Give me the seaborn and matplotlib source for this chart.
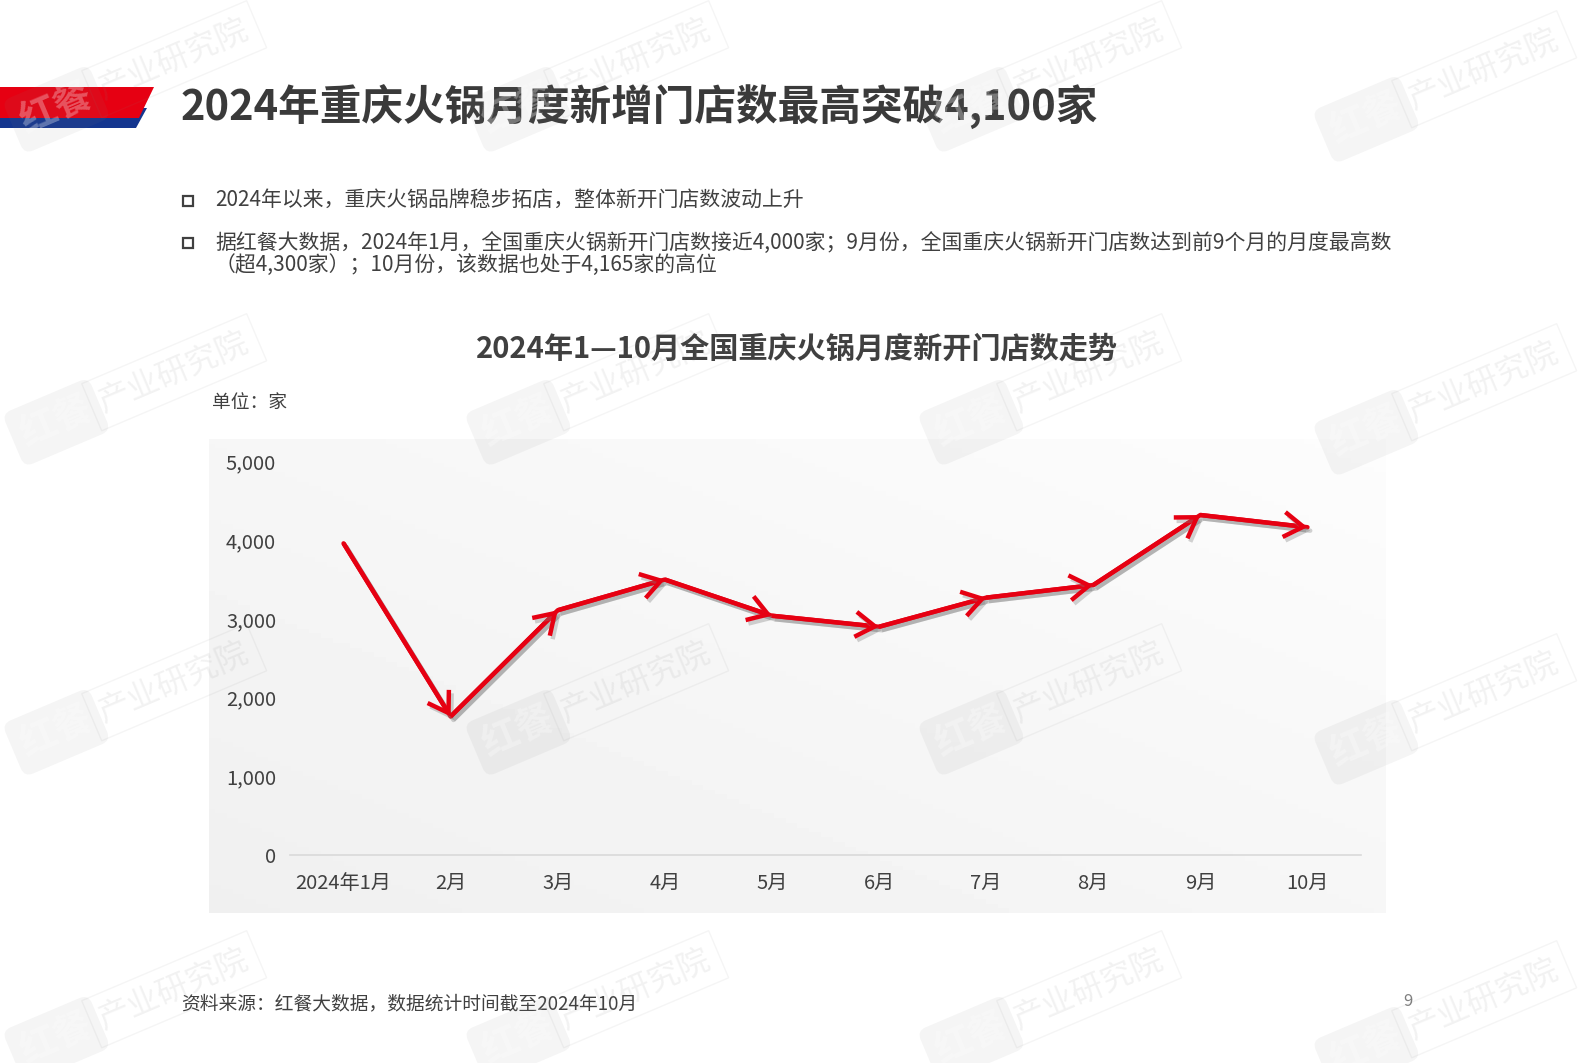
import numpy as np
import matplotlib
matplotlib.use("Agg")
import matplotlib.pyplot as plt
import matplotlib.patheffects as pe
from matplotlib.patches import Polygon, Rectangle
from matplotlib.ticker import FuncFormatter
import seaborn as sns

# data
months = ["2024年1月", "2月", "3月", "4月", "5月", "6月", "7月", "8月", "9月", "10月"]
new_stores = [3960, 1760, 3110, 3500, 3040, 2900, 3270, 3430, 4320, 4165]
y_ticks = [0, 1000, 2000, 3000, 4000, 5000]

page_title = "2024年重庆火锅月度新增门店数最高突破4,100家"
bullets = [
    ["2024年以来，重庆火锅品牌稳步拓店，整体新开门店数波动上升"],
    ["据红餐大数据，2024年1月，全国重庆火锅新开门店数接近4,000家；9月份，全国重庆火锅新开门店数达到前9个月的月度最高数",
     "（超4,300家）；10月份，该数据也处于4,165家的高位"],
]
chart_title = "2024年1—10月全国重庆火锅月度新开门店数走势"
unit_label = "单位：家"
source_note = "资料来源：红餐大数据，数据统计时间截至2024年10月"
page_no = "9"

sns.set_theme(style="white")
plt.rcParams["font.family"] = ["Noto Sans CJK SC", "DejaVu Sans"]

W, H = 1594, 1063
RED = "#e60012"
BLUE = "#14368f"
TXT = "#404040"


def fx(x):
    return x / W


def fy(y):
    return 1 - y / H


fig = plt.figure(figsize=(W / 100, H / 100), dpi=100, facecolor="white")

# header banner
fig.add_artist(Polygon([(fx(0), fy(108)), (fx(147), fy(108)), (fx(136), fy(128)), (fx(0), fy(128))],
                       closed=True, transform=fig.transFigure, facecolor=BLUE, edgecolor="none"))
fig.add_artist(Polygon([(fx(0), fy(87)), (fx(154), fy(87)), (fx(139), fy(118)), (fx(0), fy(118))],
                       closed=True, transform=fig.transFigure, facecolor=RED, edgecolor="none"))
fig.text(fx(181), fy(107), page_title, fontsize=30, fontweight="bold", color="#3a3a3a",
         ha="left", va="center")

# bullet points
line_y = [[201], [243, 265]]
for lines, ys in zip(bullets, line_y):
    fig.add_artist(Rectangle((fx(183), fy(ys[0] + 5)), 10 / W, 10 / H, transform=fig.transFigure,
                             facecolor="none", edgecolor=TXT, lw=1.6))
    for txt, y in zip(lines, ys):
        fig.text(fx(215), fy(y), txt, fontsize=15, color=TXT, ha="left", va="center")

# chart title and unit
fig.text(0.5, fy(349), chart_title, fontsize=21, fontweight="bold", color=TXT, ha="center", va="center")
fig.text(fx(212), fy(402), unit_label, fontsize=13.5, color=TXT, ha="left", va="center")

# gradient panel behind the chart
bg = fig.add_axes([fx(209), fy(913), (1385 - 209) / W, (913 - 439) / H], zorder=0)
gx, gy = np.meshgrid(np.linspace(0, 1, 200), np.linspace(0, 1, 100))
grad = 0.94 + 0.05 * (gx + (1 - gy)) / 2
bg.imshow(grad, cmap="gray", vmin=0, vmax=1, aspect="auto", origin="upper")
bg.axis("off")

ax = fig.add_axes([fx(290), fy(855), (1361 - 290) / W, (855 - 461.5) / H], zorder=1)
ax.set_facecolor("none")

shadow = [pe.SimpleLineShadow(offset=(2, -2.5), shadow_color="#808080", alpha=0.35), pe.Normal()]
sns.lineplot(x=months, y=new_stores, sort=False, color=RED, linewidth=3.2, ax=ax)
for line in ax.lines:
    line.set_path_effects(shadow)
    line.set_clip_on(False)
    line.set_solid_joinstyle("round")

for i in range(len(months) - 1):
    ann = ax.annotate("", xy=(months[i + 1], new_stores[i + 1]), xytext=(months[i], new_stores[i]),
                      arrowprops=dict(arrowstyle="->,head_length=0.7,head_width=0.45", color=RED,
                                      lw=3.2, shrinkA=0, shrinkB=0, mutation_scale=20,
                                      joinstyle="miter", capstyle="butt"))
    ann.arrow_patch.set_path_effects(shadow)

ax.set_xlim(-0.5, len(months) - 0.5)
ax.set_ylim(0, 5000)
ax.set_yticks(y_ticks)
ax.yaxis.set_major_formatter(FuncFormatter(lambda v, p: f"{v:,.0f}"))
ax.tick_params(axis="both", length=0, labelsize=14.5, labelcolor=TXT)
ax.tick_params(axis="y", pad=10)
ax.tick_params(axis="x", pad=13)
for s in ["top", "left", "right"]:
    ax.spines[s].set_visible(False)
ax.spines["bottom"].set_color("#d9d9d9")
ax.spines["bottom"].set_linewidth(1.2)
ax.grid(False)
ax.set_xlabel("")
ax.set_ylabel("")

# footer
fig.text(fx(181), fy(1004), source_note, fontsize=13.5, color=TXT, ha="left", va="center")
fig.text(fx(1408), fy(1002), page_no, fontsize=12, color="#7f7f7f", ha="center", va="center")

# faint watermarks
ang = 23
u = np.array([np.cos(np.radians(ang)), -np.sin(np.radians(ang))])
wm_cols = [130, 592, 1045, 1440]
wm_rows = [78, 391, 701, 1008]
for r in wm_rows:
    for j, c in enumerate(wm_cols):
        cy = r + (10 if j == 3 else 0)
        p1 = np.array([c, cy]) - 80 * u
        p2 = np.array([c, cy]) + 48 * u
        fig.text(fx(p1[0]), fy(p1[1]), "红餐", fontsize=27, fontweight="bold", color="white", alpha=0.3,
                 rotation=ang, rotation_mode="anchor", ha="center", va="center", zorder=10,
                 bbox=dict(boxstyle="round,pad=0.25", facecolor="#808080", edgecolor="none", alpha=0.08))
        fig.text(fx(p2[0]), fy(p2[1]), "产业研究院", fontsize=23, color="#808080", alpha=0.1,
                 rotation=ang, rotation_mode="anchor", ha="center", va="center", zorder=10,
                 bbox=dict(boxstyle="square,pad=0.3", facecolor="none", edgecolor="#808080", alpha=0.08))

fig.savefig("out.png", dpi=100, facecolor="white")
